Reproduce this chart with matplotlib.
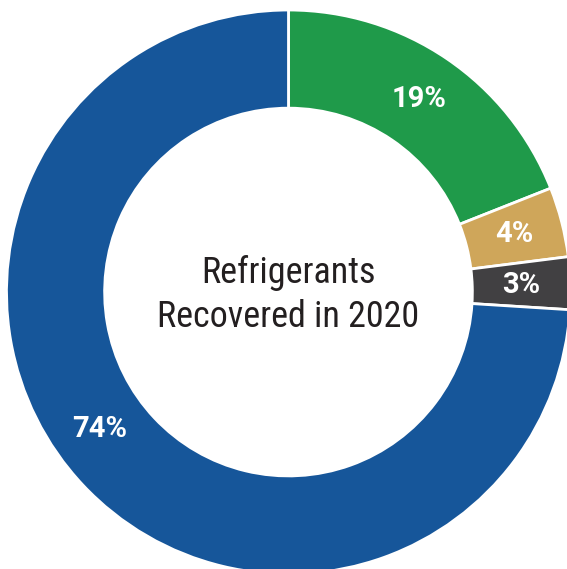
import matplotlib
matplotlib.use("Agg")
import matplotlib.pyplot as plt
import numpy as np

categories = ["Category A", "Category B", "Category C", "Category D"]
values = [19, 4, 3, 74]
labels = ["19%", "4%", "3%", "74%"]
colors = ["#1f9a4a", "#cfa65a", "#414042", "#16569a"]
title_lines = ["Refrigerants", "Recovered in 2020"]

fig = plt.figure(figsize=(5.67, 5.69), dpi=100)
ax = fig.add_axes([0, 0, 1, 1])
wedges, _ = ax.pie(values, colors=colors, startangle=90, counterclock=False,
                   radius=1.0,
                   wedgeprops=dict(width=0.348, edgecolor="white", linewidth=2))
ax.set_xlim(-1.023, 0.9876)
ax.set_ylim(-0.982, 1.0355)
ax.set_aspect("auto")
ax.axis("off")

r_lab = 0.826
label_angle_override = {3: -144.0}
for i, (w, lab) in enumerate(zip(wedges, labels)):
    ang = label_angle_override.get(i, (w.theta1 + w.theta2) / 2)
    a = np.deg2rad(ang)
    ax.text(r_lab * np.cos(a), r_lab * np.sin(a), lab, color="white",
            fontsize=21, fontweight="bold", ha="center", va="center",
            family=["Roboto", "DejaVu Sans"])

for y, line in zip([0.032, -0.124], title_lines):
    ax.text(0, y, line, ha="center", va="baseline",
            fontsize=26, color="#231f20",
            family=["Roboto Condensed", "DejaVu Sans"])

fig.savefig("out.png", dpi=100)
